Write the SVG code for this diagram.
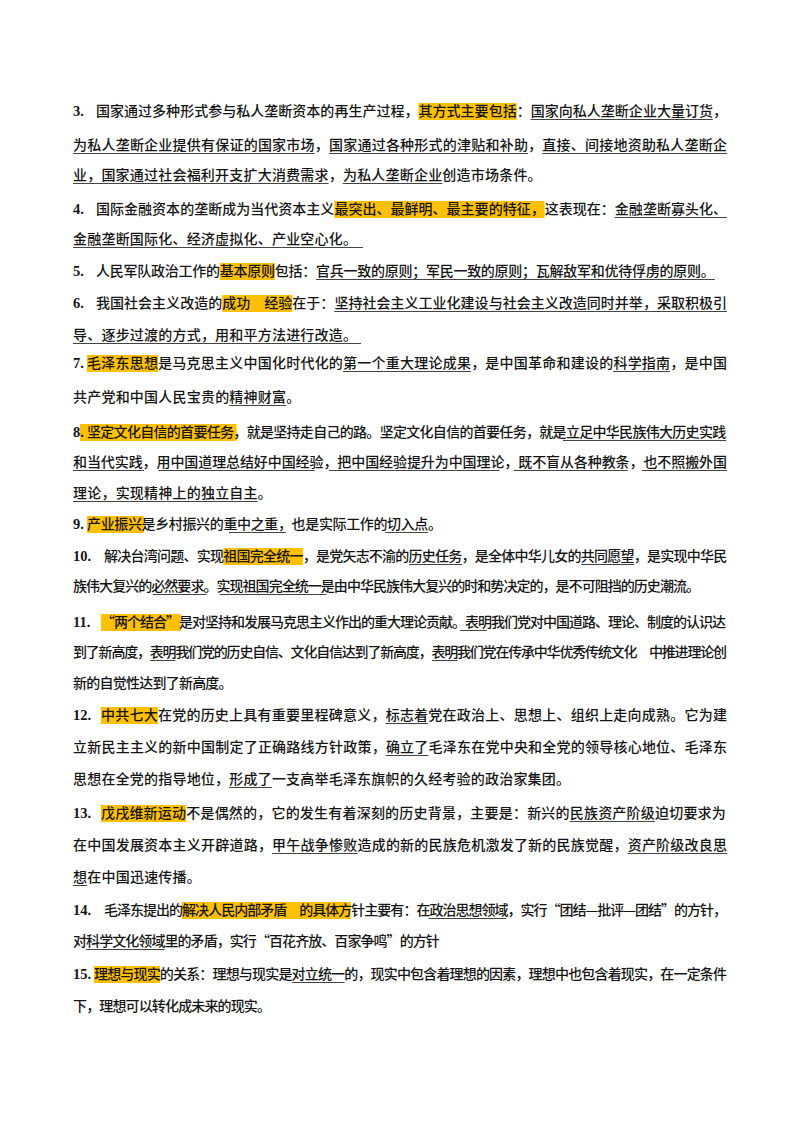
<svg xmlns="http://www.w3.org/2000/svg" width="800" height="1132" viewBox="0 0 800 1132">
<style>
text{font-family:"Noto Sans CJK SC","Noto Sans",sans-serif;font-size:14px;fill:#151515;font-weight:500}
.n{font-family:"Liberation Serif","Noto Sans CJK SC",serif;font-size:14.5px;font-weight:bold}
.h{fill:#FFC000}
.u{stroke:#444;stroke-width:1}
</style>
<rect width="800" height="1132" fill="#fff"/>
<g id="highlights">
<rect class="h" x="418.5" y="103" width="98.1" height="17"/>
<rect class="h" x="334.3" y="201" width="210.3" height="17"/>
<rect class="h" x="219.8" y="263" width="55" height="17"/>
<rect class="h" x="222.2" y="295" width="70.1" height="17"/>
<rect class="h" x="87" y="355" width="71.1" height="17"/>
<rect class="h" x="80" y="424" width="156.6" height="17"/>
<rect class="h" x="87" y="516" width="56.8" height="17"/>
<rect class="h" x="223.3" y="548" width="79.6" height="17"/>
<rect class="h" x="101" y="614" width="79.8" height="17"/>
<rect class="h" x="101" y="707" width="56.9" height="17"/>
<rect class="h" x="101" y="805" width="85.2" height="17"/>
<rect class="h" x="181.9" y="902" width="168.7" height="17"/>
<rect class="h" x="94" y="966" width="66" height="17"/>
</g>
<g id="numbers">
<text class="n" x="73" y="116">3.</text>
<text class="n" x="73" y="214">4.</text>
<text class="n" x="73" y="276">5.</text>
<text class="n" x="73" y="308">6.</text>
<text class="n" x="73" y="368">7.</text>
<text class="n" x="73" y="437">8.</text>
<text class="n" x="73" y="529">9.</text>
<text class="n" x="73" y="561">10.</text>
<text class="n" x="73" y="627">11.</text>
<text class="n" x="73" y="720">12.</text>
<text class="n" x="73" y="818">13.</text>
<text class="n" x="73" y="915">14.</text>
<text class="n" x="73" y="979">15.</text>
</g>
<g id="lines">
<text x="96" y="116" textLength="631" lengthAdjust="spacing">国家通过多种形式参与私人垄断资本的再生产过程，其方式主要包括：国家向私人垄断企业大量订货，</text>
<text x="73" y="150" textLength="654" lengthAdjust="spacing">为私人垄断企业提供有保证的国家市场，国家通过各种形式的津贴和补助，直接、间接地资助私人垄断企</text>
<text x="73" y="180" textLength="468.6" lengthAdjust="spacing">业，国家通过社会福利开支扩大消费需求，为私人垄断企业创造市场条件。</text>
<text x="96" y="214" textLength="631" lengthAdjust="spacing">国际金融资本的垄断成为当代资本主义最突出、最鲜明、最主要的特征，这表现在：金融垄断寡头化、</text>
<text x="73" y="244" textLength="284" lengthAdjust="spacing">金融垄断国际化、经济虚拟化、产业空心化。</text>
<text x="96" y="276" textLength="618.8" lengthAdjust="spacing">人民军队政治工作的基本原则包括：官兵一致的原则；军民一致的原则；瓦解敌军和优待俘虏的原则。</text>
<text x="96" y="308" textLength="631" lengthAdjust="spacing">我国社会主义改造的成功　经验在于：坚持社会主义工业化建设与社会主义改造同时并举，采取积极引</text>
<text x="73" y="340" textLength="284" lengthAdjust="spacing">导、逐步过渡的方式，用和平方法进行改造。</text>
<text x="87" y="368" textLength="640" lengthAdjust="spacing">毛泽东思想是马克思主义中国化时代化的第一个重大理论成果，是中国革命和建设的科学指南，是中国</text>
<text x="73" y="402" textLength="227.2" lengthAdjust="spacing">共产党和中国人民宝贵的精神财富。</text>
<text x="87" y="437" textLength="639.2" lengthAdjust="spacing">坚定文化自信的首要任务，就是坚持走自己的路。坚定文化自信的首要任务，就是立足中华民族伟大历史实践</text>
<text x="73" y="467" textLength="654" lengthAdjust="spacing">和当代实践，用中国道理总结好中国经验，把中国经验提升为中国理论，既不盲从各种教条，也不照搬外国</text>
<text x="73" y="498" textLength="198.8" lengthAdjust="spacing">理论，实现精神上的独立自主。</text>
<text x="87" y="529" textLength="355" lengthAdjust="spacing">产业振兴是乡村振兴的重中之重，也是实际工作的切入点。</text>
<text x="104" y="561" textLength="623.2" lengthAdjust="spacing">解决台湾问题、实现祖国完全统一，是党矢志不渝的历史任务，是全体中华儿女的共同愿望，是实现中华民</text>
<text x="73" y="591" textLength="627" lengthAdjust="spacing">族伟大复兴的必然要求。实现祖国完全统一是由中华民族伟大复兴的时和势决定的，是不可阻挡的历史潮流。</text>
<text x="101" y="627" textLength="625" lengthAdjust="spacing">“两个结合”是对坚持和发展马克思主义作出的重大理论贡献。表明我们党对中国道路、理论、制度的认识达</text>
<text x="73" y="657" textLength="654" lengthAdjust="spacing">到了新高度，表明我们党的历史自信、文化自信达到了新高度，表明我们党在传承中华优秀传统文化　中推进理论创</text>
<text x="73" y="688" textLength="159.6" lengthAdjust="spacing">新的自觉性达到了新高度。</text>
<text x="101" y="720" textLength="626" lengthAdjust="spacing">中共七大在党的历史上具有重要里程碑意义，标志着党在政治上、思想上、组织上走向成熟。它为建</text>
<text x="73" y="752" textLength="654" lengthAdjust="spacing">立新民主主义的新中国制定了正确路线方针政策，确立了毛泽东在党中央和全党的领导核心地位、毛泽东</text>
<text x="73" y="784" textLength="497" lengthAdjust="spacing">思想在全党的指导地位，形成了一支高举毛泽东旗帜的久经考验的政治家集团。</text>
<text x="101" y="818" textLength="624.8" lengthAdjust="spacing">戊戌维新运动不是偶然的，它的发生有着深刻的历史背景，主要是：新兴的民族资产阶级迫切要求为</text>
<text x="73" y="850" textLength="654" lengthAdjust="spacing">在中国发展资本主义开辟道路，甲午战争惨败造成的新的民族危机激发了新的民族觉醒，资产阶级改良思</text>
<text x="73" y="882" textLength="127.8" lengthAdjust="spacing">想在中国迅速传播。</text>
<text x="104" y="915" textLength="623" lengthAdjust="spacing">毛泽东提出的解决人民内部矛盾　的具体方针主要有：在政治思想领域，实行“团结—批评—团结”的方针，</text>
<text x="73" y="946" textLength="366.8" lengthAdjust="spacing">对科学文化领域里的矛盾，实行“百花齐放、百家争鸣”的方针</text>
<text x="94" y="979" textLength="633" lengthAdjust="spacing">理想与现实的关系：理想与现实是对立统一的，现实中包含着理想的因素，理想中也包含着现实，在一定条件</text>
<text x="73" y="1011" textLength="198" lengthAdjust="spacing">下，理想可以转化成未来的现实。</text>
</g>
<g id="underlines" class="u">
<line x1="530.6" y1="119.5" x2="712.9" y2="119.5"/>
<line x1="73" y1="153.5" x2="314.7" y2="153.5"/>
<line x1="329" y1="153.5" x2="528" y2="153.5"/>
<line x1="542.3" y1="153.5" x2="727.2" y2="153.5"/>
<line x1="73" y1="183.5" x2="328.6" y2="183.5"/>
<line x1="342.8" y1="183.5" x2="442.2" y2="183.5"/>
<line x1="614.7" y1="217.5" x2="726.9" y2="217.5"/>
<line x1="73" y1="247.5" x2="363" y2="247.5"/>
<line x1="316" y1="279.5" x2="714.8" y2="279.5"/>
<line x1="334.3" y1="311.5" x2="726.9" y2="311.5"/>
<line x1="73" y1="343.5" x2="361" y2="343.5"/>
<line x1="343" y1="371.5" x2="471" y2="371.5"/>
<line x1="613.1" y1="371.5" x2="670" y2="371.5"/>
<line x1="229.2" y1="405.5" x2="286" y2="405.5"/>
<line x1="563" y1="440.5" x2="726.2" y2="440.5"/>
<line x1="73" y1="470.5" x2="144.1" y2="470.5"/>
<line x1="158.3" y1="470.5" x2="314.7" y2="470.5"/>
<line x1="329" y1="470.5" x2="499.6" y2="470.5"/>
<line x1="513.8" y1="470.5" x2="627.6" y2="470.5"/>
<line x1="641.8" y1="470.5" x2="727.1" y2="470.5"/>
<line x1="73" y1="501.5" x2="257.6" y2="501.5"/>
<line x1="229" y1="532.5" x2="285.8" y2="532.5"/>
<line x1="385.2" y1="532.5" x2="427.8" y2="532.5"/>
<line x1="409" y1="564.5" x2="462" y2="564.5"/>
<line x1="581.4" y1="564.5" x2="634.4" y2="564.5"/>
<line x1="153" y1="594.5" x2="206.4" y2="594.5"/>
<line x1="219.7" y1="594.5" x2="326.4" y2="594.5"/>
<line x1="460.1" y1="630.5" x2="486.7" y2="630.5"/>
<line x1="149.9" y1="660.5" x2="175.5" y2="660.5"/>
<line x1="432" y1="660.5" x2="457.6" y2="660.5"/>
<line x1="385.4" y1="723.5" x2="428.1" y2="723.5"/>
<line x1="385.8" y1="755.5" x2="428.5" y2="755.5"/>
<line x1="229.2" y1="787.5" x2="271.8" y2="787.5"/>
<line x1="569.6" y1="821.5" x2="654.8" y2="821.5"/>
<line x1="272.1" y1="853.5" x2="357.4" y2="853.5"/>
<line x1="627.6" y1="853.5" x2="727.1" y2="853.5"/>
<line x1="73" y1="885.5" x2="87.2" y2="885.5"/>
<line x1="428.5" y1="918.5" x2="506.4" y2="918.5"/>
<line x1="86.1" y1="949.5" x2="164.7" y2="949.5"/>
<line x1="291.9" y1="982.5" x2="344.7" y2="982.5"/>
</g>
</svg>
